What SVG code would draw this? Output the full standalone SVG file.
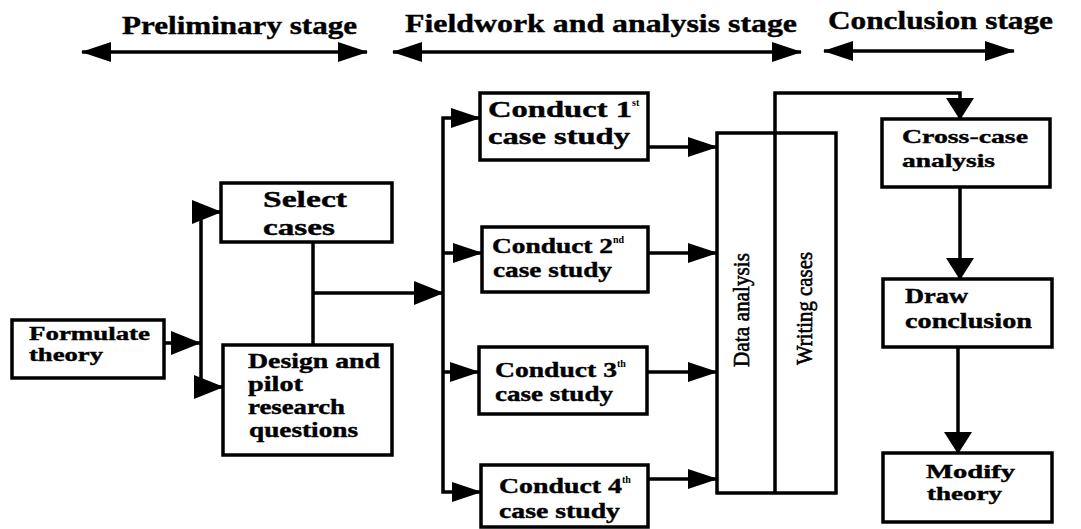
<svg xmlns="http://www.w3.org/2000/svg" width="1081" height="529" viewBox="0 0 1081 529">
<style>
text{font-family:"Liberation Serif","Times New Roman",serif;font-weight:bold;fill:#000;stroke:#000;stroke-width:0.4}
.st{font-size:26px}
.bx{fill:#fff;stroke:#000;stroke-width:3.5}
.ln{fill:none;stroke:#000;stroke-width:3.5;stroke-linejoin:miter}
.t{font-size:20px}
.s{font-size:18px}
.c{font-size:20px}
.sup{font-size:10px;stroke-width:0}
.v{font-size:23px;font-weight:normal;stroke-width:0.6}
</style>
<defs>
<marker id="ah" markerUnits="userSpaceOnUse" markerWidth="30" markerHeight="24" refX="29" refY="12" orient="auto-start-reverse"><path d="M0,0 L30,12 L0,24 z"/></marker>
<marker id="as" markerUnits="userSpaceOnUse" markerWidth="30" markerHeight="20" refX="29" refY="10" orient="auto-start-reverse"><path d="M0,0 L30,10 L0,20 z"/></marker>
<marker id="av" markerUnits="userSpaceOnUse" markerWidth="22" markerHeight="28" refX="21" refY="14" orient="auto"><path d="M0,0 L22,14 L0,28 z"/></marker>
</defs>

<g id="stages">
<text class="st" x="122" y="34" textLength="235" lengthAdjust="spacingAndGlyphs">Preliminary stage</text>
<line class="ln" x1="82" y1="52" x2="367" y2="52" marker-start="url(#as)" marker-end="url(#as)"/>
<text class="st" x="405" y="32" textLength="392" lengthAdjust="spacingAndGlyphs">Fieldwork and analysis stage</text>
<line class="ln" x1="393" y1="52" x2="801" y2="52" marker-start="url(#as)" marker-end="url(#as)"/>
<text class="st" x="828" y="29" textLength="225" lengthAdjust="spacingAndGlyphs">Conclusion stage</text>
<line class="ln" x1="824" y1="51" x2="1014" y2="51" marker-start="url(#as)" marker-end="url(#as)"/>
</g>

<g id="connectors">
<path class="ln" d="M164,343 H200" marker-end="url(#ah)"/>
<path class="ln" d="M201,343 V212 H221" marker-end="url(#ah)"/>
<path class="ln" d="M201,343 V387 H223" marker-end="url(#ah)"/>
<path class="ln" d="M313,242 V345"/>
<path class="ln" d="M313,293 H443" marker-end="url(#ah)"/>
<path class="ln" d="M443,293 V118 H480" marker-end="url(#as)"/>
<path class="ln" d="M443,293 V492 H481" marker-end="url(#as)"/>
<path class="ln" d="M443,253 H482" marker-end="url(#as)"/>
<path class="ln" d="M443,372 H479" marker-end="url(#as)"/>
<path class="ln" d="M648,147 H717" marker-end="url(#as)"/>
<path class="ln" d="M648,253 H717" marker-end="url(#as)"/>
<path class="ln" d="M647,372 H717" marker-end="url(#as)"/>
<path class="ln" d="M648,479 H717" marker-end="url(#as)"/>
<path class="ln" d="M775,133 V93 H960 V119" marker-end="url(#av)"/>
<path class="ln" d="M960,187 V279" marker-end="url(#av)"/>
<path class="ln" d="M958,347 V453" marker-end="url(#av)"/>
</g>

<g id="formulate">
<rect class="bx" x="12" y="320" width="152" height="58"/>
<text class="s" x="29" y="340" textLength="121" lengthAdjust="spacingAndGlyphs">Formulate</text>
<text class="s" x="29" y="361" textLength="74" lengthAdjust="spacingAndGlyphs">theory</text>
</g>

<g id="select">
<rect class="bx" x="221" y="183" width="171" height="59"/>
<text x="263" y="207" font-size="24" textLength="84" lengthAdjust="spacingAndGlyphs">Select</text>
<text x="263" y="235" font-size="24" textLength="72" lengthAdjust="spacingAndGlyphs">cases</text>
</g>

<g id="design">
<rect class="bx" x="223" y="345" width="169" height="110"/>
<text class="t" x="248" y="368" textLength="132" lengthAdjust="spacingAndGlyphs">Design and</text>
<text class="t" x="248" y="391" textLength="55" lengthAdjust="spacingAndGlyphs">pilot</text>
<text class="t" x="248" y="414" textLength="97" lengthAdjust="spacingAndGlyphs">research</text>
<text class="t" x="249" y="437" textLength="109" lengthAdjust="spacingAndGlyphs">questions</text>
</g>

<g id="conduct1">
<rect class="bx" x="480" y="93" width="168" height="67"/>
<text x="488" y="117" font-size="23" textLength="144" lengthAdjust="spacingAndGlyphs">Conduct 1</text>
<text class="sup" x="632" y="106">st</text>
<text x="488" y="144" font-size="23" textLength="142" lengthAdjust="spacingAndGlyphs">case study</text>
</g>

<g id="conduct2">
<rect class="bx" x="482" y="227" width="166" height="65"/>
<text class="c" x="492" y="253" textLength="121" lengthAdjust="spacingAndGlyphs">Conduct 2</text>
<text class="sup" x="613" y="243">nd</text>
<text class="c" x="493" y="277" textLength="119" lengthAdjust="spacingAndGlyphs">case study</text>
</g>

<g id="conduct3">
<rect class="bx" x="479" y="347" width="168" height="67"/>
<text class="c" x="495" y="377" textLength="122" lengthAdjust="spacingAndGlyphs">Conduct 3</text>
<text class="sup" x="617" y="367">th</text>
<text class="c" x="495" y="401" textLength="118" lengthAdjust="spacingAndGlyphs">case study</text>
</g>

<g id="conduct4">
<rect class="bx" x="481" y="465" width="167" height="62"/>
<text class="c" x="499" y="493" textLength="123" lengthAdjust="spacingAndGlyphs">Conduct 4</text>
<text class="sup" x="622" y="483">th</text>
<text class="c" x="499" y="518" textLength="121" lengthAdjust="spacingAndGlyphs">case study</text>
</g>

<g id="analysis">
<rect class="bx" x="717" y="133" width="119" height="360"/>
<line class="ln" x1="775" y1="133" x2="775" y2="493"/>
<text class="v" transform="translate(749,367) rotate(-90)" textLength="114" lengthAdjust="spacingAndGlyphs">Data analysis</text>
<text class="v" transform="translate(812,365) rotate(-90)" textLength="113" lengthAdjust="spacingAndGlyphs">Writing cases</text>
</g>

<g id="crosscase">
<rect class="bx" x="882" y="119" width="168" height="68"/>
<text x="902" y="143" font-size="19" textLength="126" lengthAdjust="spacingAndGlyphs">Cross-case</text>
<text x="902" y="167" font-size="19" textLength="93" lengthAdjust="spacingAndGlyphs">analysis</text>
</g>

<g id="draw">
<rect class="bx" x="883" y="279" width="169" height="68"/>
<text class="t" x="905" y="303" textLength="63" lengthAdjust="spacingAndGlyphs">Draw</text>
<text class="t" x="905" y="328" textLength="127" lengthAdjust="spacingAndGlyphs">conclusion</text>
</g>

<g id="modify">
<rect class="bx" x="883" y="453" width="169" height="69"/>
<text class="s" x="926" y="478" textLength="89" lengthAdjust="spacingAndGlyphs">Modify</text>
<text class="s" x="927" y="500" textLength="75" lengthAdjust="spacingAndGlyphs">theory</text>
</g>
</svg>
